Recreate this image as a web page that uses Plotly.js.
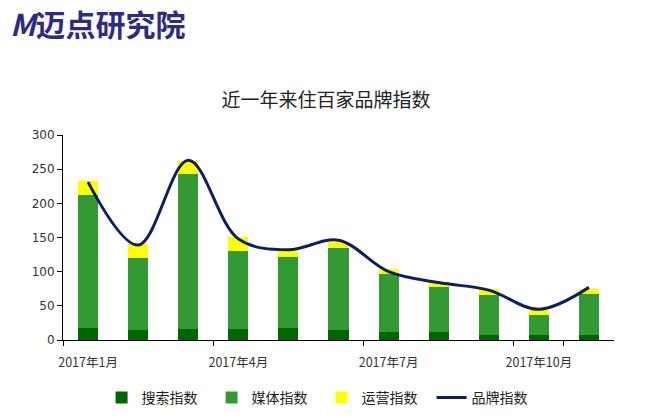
<!DOCTYPE html>
<html><head><meta charset="utf-8">
<script src="https://cdn.plot.ly/plotly-3.0.1.min.js"></script>
<style>html,body{margin:0;padding:0;background:#fff;}#chart{width:652px;height:418px;}</style>
</head><body><div id="chart"></div>
<script>
const months = ["2017年1月","2017年2月","2017年3月","2017年4月","2017年5月","2017年6月","2017年7月","2017年8月","2017年9月","2017年10月","2017年11月"];
const searchIdx = [17, 15, 16, 16, 17, 14, 11, 11, 7, 7, 7];
const mediaIdx  = [195, 105, 227, 114, 105, 121, 85, 67, 59, 30, 60];
const opsIdx    = [20, 20, 19, 21, 8, 9, 8, 7, 8, 7, 8];
const brandIdx  = [231, 139, 263, 148, 132, 146, 100, 84, 73, 45, 77];
const tickLabels = [months[0], months[3], months[6], months[9]];

const cjk = '"Noto Sans CJK SC", "Microsoft YaHei", sans-serif';
const traces = [
  {type:'bar', name:'搜索指数', x:months, y:searchIdx, marker:{color:'#006600'}, width:0.4},
  {type:'bar', name:'媒体指数', x:months, y:mediaIdx, marker:{color:'#339933'}, width:0.4},
  {type:'bar', name:'运营指数', x:months, y:opsIdx, marker:{color:'#ffff00'}, width:0.4},
  {type:'scatter', mode:'lines', name:'品牌指数', x:months, y:brandIdx,
   line:{color:'#0c1f5e', width:3, shape:'spline', smoothing:1}}
];
const layout = {
  width:652, height:418,
  margin:{l:63, r:38, t:135, b:78, autoexpand:false},
  paper_bgcolor:'#fff', plot_bgcolor:'#fff',
  barmode:'stack',
  showlegend:true,
  font:{family:cjk, color:'#333', size:12},
  title:{text:'近一年来住百家品牌指数', font:{family:cjk, size:19, color:'#222'}, x:0.5, xanchor:'center', y:0.76, yanchor:'middle', yref:'container'},
  xaxis:{type:'category', tickmode:'array', tickvals:tickLabels, ticktext:tickLabels,
    tickson:'boundaries', ticks:'outside', ticklen:5, tickcolor:'#000', tickangle:0, automargin:false,
    ticklabelstandoff:11,
    showline:true, linecolor:'#000', linewidth:1, showgrid:false, zeroline:false,
    range:[-0.5,10.5], tickfont:{family:cjk, size:12.5, color:'#333'}},
  yaxis:{range:[0,300], tickvals:[0,50,100,150,200,250,300], ticks:'outside', ticklen:5, tickcolor:'#000', automargin:false,
    showline:true, linecolor:'#000', linewidth:1, showgrid:false, zeroline:false,
    tickfont:{family:'"DejaVu Sans", Verdana, sans-serif', size:12, color:'#333'}},
  legend:{orientation:'h', x:0.07, xanchor:'left', y:-0.283, yanchor:'middle', traceorder:'normal',
    font:{family:cjk, size:14, color:'#222'}, itemwidth:30, entrywidth:65, entrywidthmode:'pixels'},
  annotations:[{xref:'paper', yref:'paper', x:-0.1, y:1.545, xanchor:'left', yanchor:'middle',
    showarrow:false, text:'<b><i>M</i>迈点研究院</b>', font:{family:cjk, size:30, color:'#2e2a86'}}]
};
Plotly.newPlot('chart', traces, layout, {displayModeBar:false, staticPlot:true});
</script></body></html>
